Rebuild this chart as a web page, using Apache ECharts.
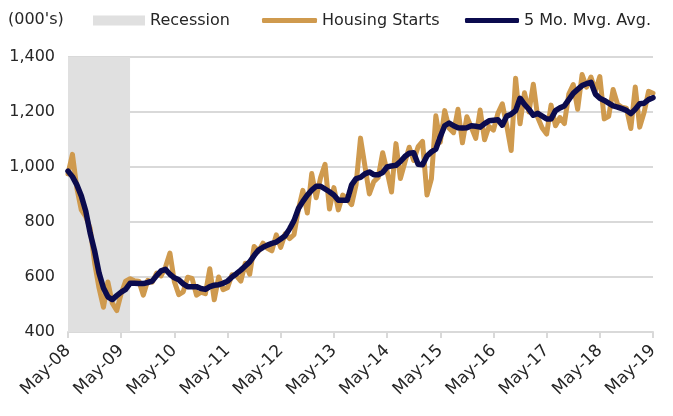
<!DOCTYPE html>
<html>
<head>
<meta charset="utf-8">
<script src="https://cdn.jsdelivr.net/npm/echarts@6/dist/echarts.min.js"></script>
<style>
  html, body { margin: 0; padding: 0; background: #fff; }
  #housingChart { width: 673px; height: 416px; }
</style>
</head>
<body>
<div id="housingChart"></div>
<script>
// monthly, May-08 .. May-19 (thousands, SAAR)
const monthNames = ['Jan', 'Feb', 'Mar', 'Apr', 'May', 'Jun', 'Jul', 'Aug', 'Sep', 'Oct', 'Nov', 'Dec'];
const startYear = 2008;
const startMonth = 4; // May

const housingStarts = [
  975, 1046, 923, 844, 820, 777, 652, 560,
  490, 582, 505, 478, 540, 585, 594, 586, 585, 534, 588, 581,
  614, 604, 636, 687, 583, 536, 546, 599, 595, 534, 545, 539,
  630, 517, 600, 554, 561, 608, 604, 585, 650, 610, 711, 694,
  723, 704, 695, 753, 708, 757, 740, 754, 847, 915, 833, 976,
  888, 962, 1010, 847, 925, 844, 898, 883, 863, 936, 1105, 1003,
  902, 947, 962, 1052, 984, 909, 1085, 958, 1016, 1072, 1024, 1074,
  1093, 898, 957, 1186, 1090, 1205, 1141, 1125, 1210, 1088, 1183, 1144,
  1104, 1207, 1099, 1148, 1134, 1195, 1230, 1150, 1060, 1323, 1157, 1270,
  1200, 1301, 1180, 1142, 1120, 1225, 1150, 1180, 1158, 1265, 1300, 1210,
  1336, 1290, 1327, 1276, 1329, 1175, 1184, 1282, 1228, 1217, 1214, 1140,
  1291, 1145, 1199, 1275, 1268
];

const mvgAvg = [
  985, 965, 935, 895, 840, 760, 695, 615,
  560, 528, 518, 532, 545, 555, 577, 577, 576, 576, 580, 585,
  605, 622, 628, 610, 597, 590, 575, 565, 565, 565, 558, 555,
  565, 570, 572, 577, 585, 600, 612, 625, 640, 655, 678, 698,
  708, 716, 722, 727, 738, 750, 775, 805, 849, 875, 898, 916,
  930, 930, 920, 910, 898, 879, 879, 879, 935, 958, 962, 975,
  982, 972, 972, 980, 1000, 1004, 1006, 1020, 1038, 1050, 1052, 1010,
  1008, 1040, 1055, 1065, 1110, 1150, 1160, 1150, 1143, 1142, 1143, 1150,
  1148, 1145, 1158, 1168, 1170, 1172, 1152, 1185, 1192, 1205, 1250, 1228,
  1210, 1188, 1195, 1185, 1175, 1175, 1205, 1215, 1222, 1245, 1268, 1282,
  1296, 1303, 1308, 1265, 1250, 1242, 1232, 1222, 1218, 1212, 1206, 1194,
  1210, 1230, 1232, 1245, 1252
];

const recession = ['May-08', 'Jul-09'];
const yTicks = { min: 400, max: 1400, step: 200 };

const categories = [];
for (let i = 0; i < housingStarts.length; i++) {
  const m = (startMonth + i) % 12;
  const y = startYear + Math.floor((startMonth + i) / 12);
  categories.push(monthNames[m] + '-' + String(y % 100).padStart(2, '0'));
}

const FONT = 'DejaVu Sans';
const TEXT = '#262626';
const GOLD = '#CF9A4E';
const NAVY = '#0B0B4E';
const SHADE = '#E0E0E0';

const chart = echarts.init(document.getElementById('housingChart'));

const legendBase = {
  top: 12,
  padding: 0,
  icon: 'roundRect',
  itemWidth: 55,
  itemHeight: 5,
  textStyle: { fontFamily: FONT, fontSize: 16, color: TEXT, lineHeight: 17 }
};

const option = {
  animation: false,
  graphic: [{
    type: 'text',
    left: 8,
    top: 12,
    style: { text: "(000's)", font: '16px ' + FONT, fill: TEXT }
  }],
  legend: [
    Object.assign({}, legendBase, {
      left: 93, icon: 'rect', itemWidth: 52, itemHeight: 10,
      data: [{ name: 'Recession', itemStyle: { color: SHADE } }]
    }),
    Object.assign({}, legendBase, { left: 262, data: ['Housing Starts'] }),
    Object.assign({}, legendBase, { left: 465, itemWidth: 54, data: ['5 Mo. Mvg. Avg.'] })
  ],
  grid: { left: 68, right: 20, top: 57, bottom: 84 },
  xAxis: {
    type: 'category',
    data: categories,
    boundaryGap: false,
    axisLine: { lineStyle: { color: '#D9D9D9', width: 2 } },
    axisTick: { interval: 11, length: 6, lineStyle: { color: '#D9D9D9', width: 2 } },
    axisLabel: {
      interval: 11,
      rotate: 45,
      margin: 16,
      fontFamily: FONT,
      fontSize: 17,
      color: TEXT
    },
    splitLine: { show: false }
  },
  yAxis: {
    type: 'value',
    min: yTicks.min,
    max: yTicks.max,
    interval: yTicks.step,
    axisLine: { show: false },
    axisTick: { show: false },
    axisLabel: {
      margin: 13,
      fontFamily: FONT,
      fontSize: 16,
      color: TEXT,
      formatter: v => v.toLocaleString('en-US')
    },
    splitLine: { lineStyle: { color: '#D9D9D9', width: 2 } }
  },
  series: [
    {
      name: 'Recession',
      type: 'line',
      data: [],
      color: SHADE,
      markArea: {
        silent: true,
        itemStyle: { color: SHADE, opacity: 1 },
        data: [[{ xAxis: recession[0] }, { xAxis: recession[1] }]]
      }
    },
    {
      name: 'Housing Starts',
      type: 'line',
      data: housingStarts,
      color: GOLD,
      showSymbol: false,
      lineStyle: { width: 5, color: GOLD, join: 'round', cap: 'round' },
      z: 3
    },
    {
      name: '5 Mo. Mvg. Avg.',
      type: 'line',
      data: mvgAvg,
      color: NAVY,
      showSymbol: false,
      lineStyle: { width: 5.5, color: NAVY, join: 'round', cap: 'round' },
      z: 4
    }
  ]
};

chart.setOption(option);
</script>
</body>
</html>
